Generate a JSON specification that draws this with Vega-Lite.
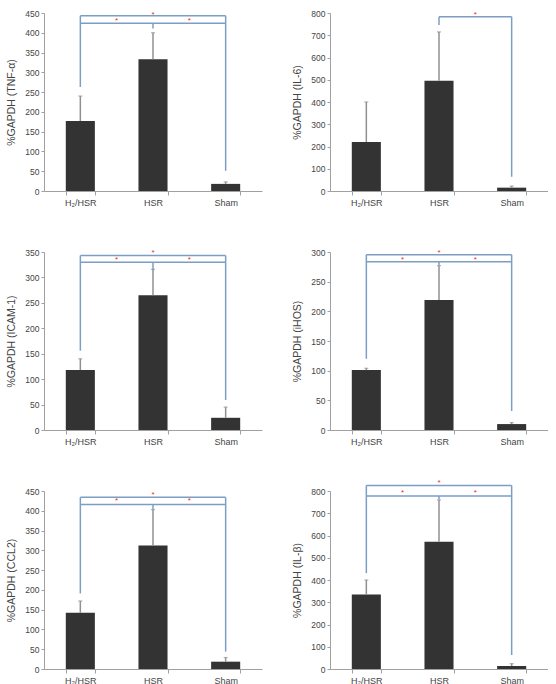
{
  "$schema": "https://vega.github.io/schema/vega-lite/v6.json",
  "columns": 2,
  "spacing": {"row": 61, "column": 68},
  "bounds": "flush",
  "padding": {"left": 6, "top": 9, "right": 0, "bottom": 0},
  "background": "white",
  "config": {
    "view": {"stroke": null},
    "font": "Liberation Sans",
    "axis": {
      "domainColor": "#a0a0a0",
      "tickColor": "#a0a0a0",
      "labelColor": "#444444",
      "titleColor": "#444444",
      "labelFont": "Liberation Sans",
      "titleFont": "Liberation Sans",
      "titleFontWeight": "normal",
      "grid": false
    },
    "axisX": {"labelFontSize": 9, "tickBand": "extent", "labelAngle": 0, "tickSize": 4, "labelPadding": 3},
    "axisY": {"labelFontSize": 8.5, "titleFontSize": 10.5, "tickSize": 3, "titlePadding": 8, "labelOverlap": false}
  },
  "datasets": {
    "tnf": [
      {"kind": "bar", "group": "H₂/HSR", "mean": 177, "upper": 240},
      {"kind": "bar", "group": "HSR", "mean": 333, "upper": 400},
      {"kind": "bar", "group": "Sham", "mean": 18, "upper": 23},
      {"kind": "h", "from": "H₂/HSR", "to": "Sham", "level": 443},
      {"kind": "h", "from": "H₂/HSR", "to": "Sham", "level": 424},
      {"kind": "v", "group": "H₂/HSR", "top": 443, "bottom": 263},
      {"kind": "v", "group": "Sham", "top": 443, "bottom": 51},
      {"kind": "v", "group": "HSR", "top": 424, "bottom": 411},
      {"kind": "star", "pos": "center", "group": "HSR", "level": 446},
      {"kind": "star", "pos": "mid", "group": "H₂/HSR", "level": 430},
      {"kind": "star", "pos": "mid", "group": "HSR", "level": 430}
    ],
    "il6": [
      {"kind": "bar", "group": "H₂/HSR", "mean": 220, "upper": 400},
      {"kind": "bar", "group": "HSR", "mean": 495, "upper": 715},
      {"kind": "bar", "group": "Sham", "mean": 15, "upper": 22},
      {"kind": "h", "from": "HSR", "to": "Sham", "level": 783},
      {"kind": "v", "group": "HSR", "top": 783, "bottom": 746},
      {"kind": "v", "group": "Sham", "top": 783, "bottom": 64},
      {"kind": "star", "pos": "mid", "group": "HSR", "level": 792}
    ],
    "icam": [
      {"kind": "bar", "group": "H₂/HSR", "mean": 118, "upper": 140},
      {"kind": "bar", "group": "HSR", "mean": 265, "upper": 316},
      {"kind": "bar", "group": "Sham", "mean": 24, "upper": 45},
      {"kind": "h", "from": "H₂/HSR", "to": "Sham", "level": 343},
      {"kind": "h", "from": "H₂/HSR", "to": "Sham", "level": 330},
      {"kind": "v", "group": "H₂/HSR", "top": 343, "bottom": 156},
      {"kind": "v", "group": "Sham", "top": 343, "bottom": 59},
      {"kind": "v", "group": "HSR", "top": 330, "bottom": 314},
      {"kind": "star", "pos": "center", "group": "HSR", "level": 348},
      {"kind": "star", "pos": "mid", "group": "H₂/HSR", "level": 334},
      {"kind": "star", "pos": "mid", "group": "HSR", "level": 334}
    ],
    "ihos": [
      {"kind": "bar", "group": "H₂/HSR", "mean": 101, "upper": 104},
      {"kind": "bar", "group": "HSR", "mean": 219, "upper": 277},
      {"kind": "bar", "group": "Sham", "mean": 10, "upper": 12.5},
      {"kind": "h", "from": "H₂/HSR", "to": "Sham", "level": 295.5},
      {"kind": "h", "from": "H₂/HSR", "to": "Sham", "level": 283.6},
      {"kind": "v", "group": "H₂/HSR", "top": 295.5, "bottom": 120},
      {"kind": "v", "group": "Sham", "top": 295.5, "bottom": 32},
      {"kind": "v", "group": "HSR", "top": 283.6, "bottom": 277.5},
      {"kind": "star", "pos": "center", "group": "HSR", "level": 298},
      {"kind": "star", "pos": "mid", "group": "H₂/HSR", "level": 286.5},
      {"kind": "star", "pos": "mid", "group": "HSR", "level": 286.5}
    ],
    "ccl2": [
      {"kind": "bar", "group": "H₂/HSR", "mean": 142, "upper": 172},
      {"kind": "bar", "group": "HSR", "mean": 312, "upper": 403},
      {"kind": "bar", "group": "Sham", "mean": 18.5, "upper": 29},
      {"kind": "h", "from": "H₂/HSR", "to": "Sham", "level": 434},
      {"kind": "h", "from": "H₂/HSR", "to": "Sham", "level": 416},
      {"kind": "v", "group": "H₂/HSR", "top": 434, "bottom": 191},
      {"kind": "v", "group": "Sham", "top": 434, "bottom": 44},
      {"kind": "v", "group": "HSR", "top": 416, "bottom": 404},
      {"kind": "star", "pos": "center", "group": "HSR", "level": 440},
      {"kind": "star", "pos": "mid", "group": "H₂/HSR", "level": 424},
      {"kind": "star", "pos": "mid", "group": "HSR", "level": 424}
    ],
    "ilb": [
      {"kind": "bar", "group": "H₂/HSR", "mean": 335, "upper": 400},
      {"kind": "bar", "group": "HSR", "mean": 572, "upper": 760},
      {"kind": "bar", "group": "Sham", "mean": 13.5, "upper": 24},
      {"kind": "h", "from": "H₂/HSR", "to": "Sham", "level": 825},
      {"kind": "h", "from": "H₂/HSR", "to": "Sham", "level": 778},
      {"kind": "v", "group": "H₂/HSR", "top": 825, "bottom": 431},
      {"kind": "v", "group": "Sham", "top": 825, "bottom": 63},
      {"kind": "v", "group": "HSR", "top": 778, "bottom": 762},
      {"kind": "star", "pos": "center", "group": "HSR", "level": 834},
      {"kind": "star", "pos": "mid", "group": "H₂/HSR", "level": 789},
      {"kind": "star", "pos": "mid", "group": "HSR", "level": 789}
    ]
  },
  "concat": [
    {
      "width": 218, "height": 178,
      "data": {"name": "tnf"},
      "layer": [
        {"transform": [{"filter": "datum.kind == 'bar'"}], "mark": {"type": "bar", "color": "#333333"},
         "encoding": {
           "x": {"field": "group", "type": "nominal", "title": null, "scale": {"domain": ["H₂/HSR", "HSR", "Sham"], "paddingInner": 0.6, "paddingOuter": 0.3}},
           "y": {"field": "mean", "type": "quantitative", "scale": {"domain": [0, 450], "nice": false}, "axis": {"title": "%GAPDH (TNF-α)", "labelOverlap": false, "values": [0, 50, 100, 150, 200, 250, 300, 350, 400, 450]}}}},
        {"transform": [{"filter": "datum.kind == 'bar'"}], "mark": {"type": "rule", "color": "#909090", "strokeWidth": 1.5},
         "encoding": {"x": {"field": "group", "type": "nominal", "title": null}, "y": {"field": "mean", "type": "quantitative", "axis": {"title": "%GAPDH (TNF-α)", "labelOverlap": false, "values": [0, 50, 100, 150, 200, 250, 300, 350, 400, 450]}}, "y2": {"field": "upper"}}},
        {"transform": [{"filter": "datum.kind == 'bar'"}], "mark": {"type": "tick", "color": "#909090", "size": 4, "thickness": 1.2, "orient": "horizontal"},
         "encoding": {"x": {"field": "group", "type": "nominal", "title": null}, "y": {"field": "upper", "type": "quantitative", "axis": {"title": "%GAPDH (TNF-α)", "labelOverlap": false, "values": [0, 50, 100, 150, 200, 250, 300, 350, 400, 450]}}}},
        {"transform": [{"filter": "datum.kind == 'h'"}], "mark": {"type": "rule", "color": "#7d9ec4", "strokeWidth": 1.5},
         "encoding": {"x": {"field": "from", "type": "nominal", "title": null}, "x2": {"field": "to"}, "y": {"field": "level", "type": "quantitative", "axis": {"title": "%GAPDH (TNF-α)", "labelOverlap": false, "values": [0, 50, 100, 150, 200, 250, 300, 350, 400, 450]}}}},
        {"transform": [{"filter": "datum.kind == 'v'"}], "mark": {"type": "rule", "color": "#7d9ec4", "strokeWidth": 1.5},
         "encoding": {"x": {"field": "group", "type": "nominal", "title": null}, "y": {"field": "top", "type": "quantitative", "axis": {"title": "%GAPDH (TNF-α)", "labelOverlap": false, "values": [0, 50, 100, 150, 200, 250, 300, 350, 400, 450]}}, "y2": {"field": "bottom"}}},
        {"transform": [{"filter": "datum.kind == 'star' && datum.pos == 'center'"}], "mark": {"type": "text", "text": "*", "color": "#e0302f", "fontSize": 8, "baseline": "middle"},
         "encoding": {"x": {"field": "group", "type": "nominal", "title": null}, "y": {"field": "level", "type": "quantitative", "axis": {"title": "%GAPDH (TNF-α)", "labelOverlap": false, "values": [0, 50, 100, 150, 200, 250, 300, 350, 400, 450]}}}},
        {"transform": [{"filter": "datum.kind == 'star' && datum.pos == 'mid'"}], "mark": {"type": "text", "text": "*", "color": "#e0302f", "fontSize": 8, "baseline": "middle", "dx": 36.3},
         "encoding": {"x": {"field": "group", "type": "nominal", "title": null}, "y": {"field": "level", "type": "quantitative", "axis": {"title": "%GAPDH (TNF-α)", "labelOverlap": false, "values": [0, 50, 100, 150, 200, 250, 300, 350, 400, 450]}}}}
      ]
    },
    {
      "width": 218, "height": 178,
      "data": {"name": "il6"},
      "layer": [
        {"transform": [{"filter": "datum.kind == 'bar'"}], "mark": {"type": "bar", "color": "#333333"},
         "encoding": {
           "x": {"field": "group", "type": "nominal", "title": null, "scale": {"domain": ["H₂/HSR", "HSR", "Sham"], "paddingInner": 0.6, "paddingOuter": 0.3}},
           "y": {"field": "mean", "type": "quantitative", "scale": {"domain": [0, 800], "nice": false}, "axis": {"title": "%GAPDH (IL-6)", "labelOverlap": false, "values": [0, 100, 200, 300, 400, 500, 600, 700, 800]}}}},
        {"transform": [{"filter": "datum.kind == 'bar'"}], "mark": {"type": "rule", "color": "#909090", "strokeWidth": 1.5},
         "encoding": {"x": {"field": "group", "type": "nominal", "title": null}, "y": {"field": "mean", "type": "quantitative", "axis": {"title": "%GAPDH (IL-6)", "labelOverlap": false, "values": [0, 100, 200, 300, 400, 500, 600, 700, 800]}}, "y2": {"field": "upper"}}},
        {"transform": [{"filter": "datum.kind == 'bar'"}], "mark": {"type": "tick", "color": "#909090", "size": 4, "thickness": 1.2, "orient": "horizontal"},
         "encoding": {"x": {"field": "group", "type": "nominal", "title": null}, "y": {"field": "upper", "type": "quantitative", "axis": {"title": "%GAPDH (IL-6)", "labelOverlap": false, "values": [0, 100, 200, 300, 400, 500, 600, 700, 800]}}}},
        {"transform": [{"filter": "datum.kind == 'h'"}], "mark": {"type": "rule", "color": "#7d9ec4", "strokeWidth": 1.5},
         "encoding": {"x": {"field": "from", "type": "nominal", "title": null}, "x2": {"field": "to"}, "y": {"field": "level", "type": "quantitative", "axis": {"title": "%GAPDH (IL-6)", "labelOverlap": false, "values": [0, 100, 200, 300, 400, 500, 600, 700, 800]}}}},
        {"transform": [{"filter": "datum.kind == 'v'"}], "mark": {"type": "rule", "color": "#7d9ec4", "strokeWidth": 1.5},
         "encoding": {"x": {"field": "group", "type": "nominal", "title": null}, "y": {"field": "top", "type": "quantitative", "axis": {"title": "%GAPDH (IL-6)", "labelOverlap": false, "values": [0, 100, 200, 300, 400, 500, 600, 700, 800]}}, "y2": {"field": "bottom"}}},
        {"transform": [{"filter": "datum.kind == 'star' && datum.pos == 'mid'"}], "mark": {"type": "text", "text": "*", "color": "#e0302f", "fontSize": 8, "baseline": "middle", "dx": 36.3},
         "encoding": {"x": {"field": "group", "type": "nominal", "title": null}, "y": {"field": "level", "type": "quantitative", "axis": {"title": "%GAPDH (IL-6)", "labelOverlap": false, "values": [0, 100, 200, 300, 400, 500, 600, 700, 800]}}}}
      ]
    },
    {
      "width": 218, "height": 178,
      "data": {"name": "icam"},
      "layer": [
        {"transform": [{"filter": "datum.kind == 'bar'"}], "mark": {"type": "bar", "color": "#333333"},
         "encoding": {
           "x": {"field": "group", "type": "nominal", "title": null, "scale": {"domain": ["H₂/HSR", "HSR", "Sham"], "paddingInner": 0.6, "paddingOuter": 0.3}},
           "y": {"field": "mean", "type": "quantitative", "scale": {"domain": [0, 350], "nice": false}, "axis": {"title": "%GAPDH (ICAM-1)", "labelOverlap": false, "values": [0, 50, 100, 150, 200, 250, 300, 350]}}}},
        {"transform": [{"filter": "datum.kind == 'bar'"}], "mark": {"type": "rule", "color": "#909090", "strokeWidth": 1.5},
         "encoding": {"x": {"field": "group", "type": "nominal", "title": null}, "y": {"field": "mean", "type": "quantitative", "axis": {"title": "%GAPDH (ICAM-1)", "labelOverlap": false, "values": [0, 50, 100, 150, 200, 250, 300, 350]}}, "y2": {"field": "upper"}}},
        {"transform": [{"filter": "datum.kind == 'bar'"}], "mark": {"type": "tick", "color": "#909090", "size": 4, "thickness": 1.2, "orient": "horizontal"},
         "encoding": {"x": {"field": "group", "type": "nominal", "title": null}, "y": {"field": "upper", "type": "quantitative", "axis": {"title": "%GAPDH (ICAM-1)", "labelOverlap": false, "values": [0, 50, 100, 150, 200, 250, 300, 350]}}}},
        {"transform": [{"filter": "datum.kind == 'h'"}], "mark": {"type": "rule", "color": "#7d9ec4", "strokeWidth": 1.5},
         "encoding": {"x": {"field": "from", "type": "nominal", "title": null}, "x2": {"field": "to"}, "y": {"field": "level", "type": "quantitative", "axis": {"title": "%GAPDH (ICAM-1)", "labelOverlap": false, "values": [0, 50, 100, 150, 200, 250, 300, 350]}}}},
        {"transform": [{"filter": "datum.kind == 'v'"}], "mark": {"type": "rule", "color": "#7d9ec4", "strokeWidth": 1.5},
         "encoding": {"x": {"field": "group", "type": "nominal", "title": null}, "y": {"field": "top", "type": "quantitative", "axis": {"title": "%GAPDH (ICAM-1)", "labelOverlap": false, "values": [0, 50, 100, 150, 200, 250, 300, 350]}}, "y2": {"field": "bottom"}}},
        {"transform": [{"filter": "datum.kind == 'star' && datum.pos == 'center'"}], "mark": {"type": "text", "text": "*", "color": "#e0302f", "fontSize": 8, "baseline": "middle"},
         "encoding": {"x": {"field": "group", "type": "nominal", "title": null}, "y": {"field": "level", "type": "quantitative", "axis": {"title": "%GAPDH (ICAM-1)", "labelOverlap": false, "values": [0, 50, 100, 150, 200, 250, 300, 350]}}}},
        {"transform": [{"filter": "datum.kind == 'star' && datum.pos == 'mid'"}], "mark": {"type": "text", "text": "*", "color": "#e0302f", "fontSize": 8, "baseline": "middle", "dx": 36.3},
         "encoding": {"x": {"field": "group", "type": "nominal", "title": null}, "y": {"field": "level", "type": "quantitative", "axis": {"title": "%GAPDH (ICAM-1)", "labelOverlap": false, "values": [0, 50, 100, 150, 200, 250, 300, 350]}}}}
      ]
    },
    {
      "width": 218, "height": 178,
      "data": {"name": "ihos"},
      "layer": [
        {"transform": [{"filter": "datum.kind == 'bar'"}], "mark": {"type": "bar", "color": "#333333"},
         "encoding": {
           "x": {"field": "group", "type": "nominal", "title": null, "scale": {"domain": ["H₂/HSR", "HSR", "Sham"], "paddingInner": 0.6, "paddingOuter": 0.3}},
           "y": {"field": "mean", "type": "quantitative", "scale": {"domain": [0, 300], "nice": false}, "axis": {"title": "%GAPDH (iHOS)", "labelOverlap": false, "values": [0, 50, 100, 150, 200, 250, 300]}}}},
        {"transform": [{"filter": "datum.kind == 'bar'"}], "mark": {"type": "rule", "color": "#909090", "strokeWidth": 1.5},
         "encoding": {"x": {"field": "group", "type": "nominal", "title": null}, "y": {"field": "mean", "type": "quantitative", "axis": {"title": "%GAPDH (iHOS)", "labelOverlap": false, "values": [0, 50, 100, 150, 200, 250, 300]}}, "y2": {"field": "upper"}}},
        {"transform": [{"filter": "datum.kind == 'bar'"}], "mark": {"type": "tick", "color": "#909090", "size": 4, "thickness": 1.2, "orient": "horizontal"},
         "encoding": {"x": {"field": "group", "type": "nominal", "title": null}, "y": {"field": "upper", "type": "quantitative", "axis": {"title": "%GAPDH (iHOS)", "labelOverlap": false, "values": [0, 50, 100, 150, 200, 250, 300]}}}},
        {"transform": [{"filter": "datum.kind == 'h'"}], "mark": {"type": "rule", "color": "#7d9ec4", "strokeWidth": 1.5},
         "encoding": {"x": {"field": "from", "type": "nominal", "title": null}, "x2": {"field": "to"}, "y": {"field": "level", "type": "quantitative", "axis": {"title": "%GAPDH (iHOS)", "labelOverlap": false, "values": [0, 50, 100, 150, 200, 250, 300]}}}},
        {"transform": [{"filter": "datum.kind == 'v'"}], "mark": {"type": "rule", "color": "#7d9ec4", "strokeWidth": 1.5},
         "encoding": {"x": {"field": "group", "type": "nominal", "title": null}, "y": {"field": "top", "type": "quantitative", "axis": {"title": "%GAPDH (iHOS)", "labelOverlap": false, "values": [0, 50, 100, 150, 200, 250, 300]}}, "y2": {"field": "bottom"}}},
        {"transform": [{"filter": "datum.kind == 'star' && datum.pos == 'center'"}], "mark": {"type": "text", "text": "*", "color": "#e0302f", "fontSize": 8, "baseline": "middle"},
         "encoding": {"x": {"field": "group", "type": "nominal", "title": null}, "y": {"field": "level", "type": "quantitative", "axis": {"title": "%GAPDH (iHOS)", "labelOverlap": false, "values": [0, 50, 100, 150, 200, 250, 300]}}}},
        {"transform": [{"filter": "datum.kind == 'star' && datum.pos == 'mid'"}], "mark": {"type": "text", "text": "*", "color": "#e0302f", "fontSize": 8, "baseline": "middle", "dx": 36.3},
         "encoding": {"x": {"field": "group", "type": "nominal", "title": null}, "y": {"field": "level", "type": "quantitative", "axis": {"title": "%GAPDH (iHOS)", "labelOverlap": false, "values": [0, 50, 100, 150, 200, 250, 300]}}}}
      ]
    },
    {
      "width": 218, "height": 178,
      "data": {"name": "ccl2"},
      "layer": [
        {"transform": [{"filter": "datum.kind == 'bar'"}], "mark": {"type": "bar", "color": "#333333"},
         "encoding": {
           "x": {"field": "group", "type": "nominal", "title": null, "scale": {"domain": ["H₂/HSR", "HSR", "Sham"], "paddingInner": 0.6, "paddingOuter": 0.3}},
           "y": {"field": "mean", "type": "quantitative", "scale": {"domain": [0, 450], "nice": false}, "axis": {"title": "%GAPDH (CCL2)", "labelOverlap": false, "values": [0, 50, 100, 150, 200, 250, 300, 350, 400, 450]}}}},
        {"transform": [{"filter": "datum.kind == 'bar'"}], "mark": {"type": "rule", "color": "#909090", "strokeWidth": 1.5},
         "encoding": {"x": {"field": "group", "type": "nominal", "title": null}, "y": {"field": "mean", "type": "quantitative", "axis": {"title": "%GAPDH (CCL2)", "labelOverlap": false, "values": [0, 50, 100, 150, 200, 250, 300, 350, 400, 450]}}, "y2": {"field": "upper"}}},
        {"transform": [{"filter": "datum.kind == 'bar'"}], "mark": {"type": "tick", "color": "#909090", "size": 4, "thickness": 1.2, "orient": "horizontal"},
         "encoding": {"x": {"field": "group", "type": "nominal", "title": null}, "y": {"field": "upper", "type": "quantitative", "axis": {"title": "%GAPDH (CCL2)", "labelOverlap": false, "values": [0, 50, 100, 150, 200, 250, 300, 350, 400, 450]}}}},
        {"transform": [{"filter": "datum.kind == 'h'"}], "mark": {"type": "rule", "color": "#7d9ec4", "strokeWidth": 1.5},
         "encoding": {"x": {"field": "from", "type": "nominal", "title": null}, "x2": {"field": "to"}, "y": {"field": "level", "type": "quantitative", "axis": {"title": "%GAPDH (CCL2)", "labelOverlap": false, "values": [0, 50, 100, 150, 200, 250, 300, 350, 400, 450]}}}},
        {"transform": [{"filter": "datum.kind == 'v'"}], "mark": {"type": "rule", "color": "#7d9ec4", "strokeWidth": 1.5},
         "encoding": {"x": {"field": "group", "type": "nominal", "title": null}, "y": {"field": "top", "type": "quantitative", "axis": {"title": "%GAPDH (CCL2)", "labelOverlap": false, "values": [0, 50, 100, 150, 200, 250, 300, 350, 400, 450]}}, "y2": {"field": "bottom"}}},
        {"transform": [{"filter": "datum.kind == 'star' && datum.pos == 'center'"}], "mark": {"type": "text", "text": "*", "color": "#e0302f", "fontSize": 8, "baseline": "middle"},
         "encoding": {"x": {"field": "group", "type": "nominal", "title": null}, "y": {"field": "level", "type": "quantitative", "axis": {"title": "%GAPDH (CCL2)", "labelOverlap": false, "values": [0, 50, 100, 150, 200, 250, 300, 350, 400, 450]}}}},
        {"transform": [{"filter": "datum.kind == 'star' && datum.pos == 'mid'"}], "mark": {"type": "text", "text": "*", "color": "#e0302f", "fontSize": 8, "baseline": "middle", "dx": 36.3},
         "encoding": {"x": {"field": "group", "type": "nominal", "title": null}, "y": {"field": "level", "type": "quantitative", "axis": {"title": "%GAPDH (CCL2)", "labelOverlap": false, "values": [0, 50, 100, 150, 200, 250, 300, 350, 400, 450]}}}}
      ]
    },
    {
      "width": 218, "height": 178,
      "data": {"name": "ilb"},
      "layer": [
        {"transform": [{"filter": "datum.kind == 'bar'"}], "mark": {"type": "bar", "color": "#333333"},
         "encoding": {
           "x": {"field": "group", "type": "nominal", "title": null, "scale": {"domain": ["H₂/HSR", "HSR", "Sham"], "paddingInner": 0.6, "paddingOuter": 0.3}},
           "y": {"field": "mean", "type": "quantitative", "scale": {"domain": [0, 800], "nice": false}, "axis": {"title": "%GAPDH (IL-β)", "labelOverlap": false, "values": [0, 100, 200, 300, 400, 500, 600, 700, 800]}}}},
        {"transform": [{"filter": "datum.kind == 'bar'"}], "mark": {"type": "rule", "color": "#909090", "strokeWidth": 1.5},
         "encoding": {"x": {"field": "group", "type": "nominal", "title": null}, "y": {"field": "mean", "type": "quantitative", "axis": {"title": "%GAPDH (IL-β)", "labelOverlap": false, "values": [0, 100, 200, 300, 400, 500, 600, 700, 800]}}, "y2": {"field": "upper"}}},
        {"transform": [{"filter": "datum.kind == 'bar'"}], "mark": {"type": "tick", "color": "#909090", "size": 4, "thickness": 1.2, "orient": "horizontal"},
         "encoding": {"x": {"field": "group", "type": "nominal", "title": null}, "y": {"field": "upper", "type": "quantitative", "axis": {"title": "%GAPDH (IL-β)", "labelOverlap": false, "values": [0, 100, 200, 300, 400, 500, 600, 700, 800]}}}},
        {"transform": [{"filter": "datum.kind == 'h'"}], "mark": {"type": "rule", "color": "#7d9ec4", "strokeWidth": 1.5},
         "encoding": {"x": {"field": "from", "type": "nominal", "title": null}, "x2": {"field": "to"}, "y": {"field": "level", "type": "quantitative", "axis": {"title": "%GAPDH (IL-β)", "labelOverlap": false, "values": [0, 100, 200, 300, 400, 500, 600, 700, 800]}}}},
        {"transform": [{"filter": "datum.kind == 'v'"}], "mark": {"type": "rule", "color": "#7d9ec4", "strokeWidth": 1.5},
         "encoding": {"x": {"field": "group", "type": "nominal", "title": null}, "y": {"field": "top", "type": "quantitative", "axis": {"title": "%GAPDH (IL-β)", "labelOverlap": false, "values": [0, 100, 200, 300, 400, 500, 600, 700, 800]}}, "y2": {"field": "bottom"}}},
        {"transform": [{"filter": "datum.kind == 'star' && datum.pos == 'center'"}], "mark": {"type": "text", "text": "*", "color": "#e0302f", "fontSize": 8, "baseline": "middle"},
         "encoding": {"x": {"field": "group", "type": "nominal", "title": null}, "y": {"field": "level", "type": "quantitative", "axis": {"title": "%GAPDH (IL-β)", "labelOverlap": false, "values": [0, 100, 200, 300, 400, 500, 600, 700, 800]}}}},
        {"transform": [{"filter": "datum.kind == 'star' && datum.pos == 'mid'"}], "mark": {"type": "text", "text": "*", "color": "#e0302f", "fontSize": 8, "baseline": "middle", "dx": 36.3},
         "encoding": {"x": {"field": "group", "type": "nominal", "title": null}, "y": {"field": "level", "type": "quantitative", "axis": {"title": "%GAPDH (IL-β)", "labelOverlap": false, "values": [0, 100, 200, 300, 400, 500, 600, 700, 800]}}}}
      ]
    }
  ]
}
